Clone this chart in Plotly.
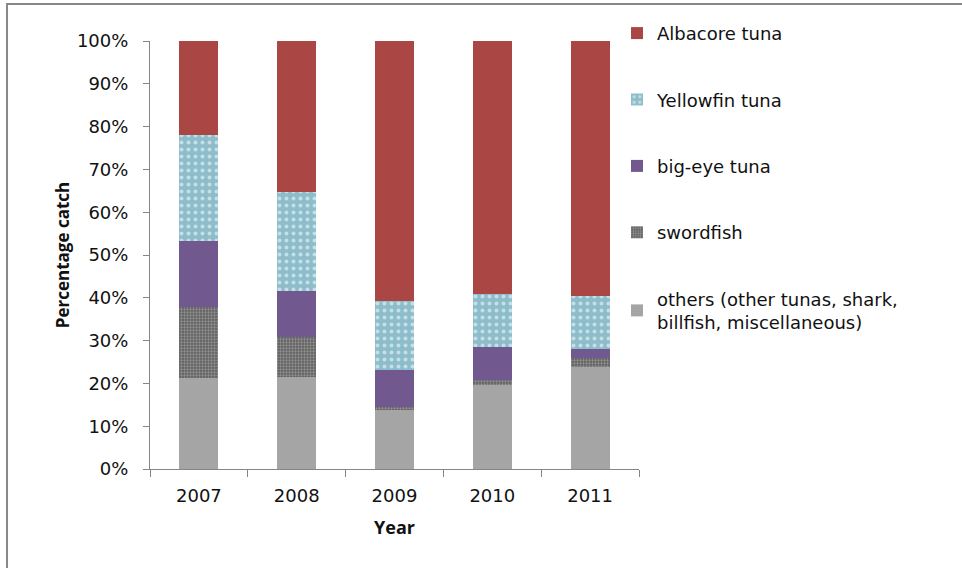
import plotly.graph_objects as go

# Share of catch by species group, per year (percent of total)
years = ["2007", "2008", "2009", "2010", "2011"]
others = [21.3, 21.5, 13.7, 19.7, 23.9]
swordfish = [16.5, 9.3, 0.7, 1.2, 2.1]
bigeye = [15.5, 10.8, 8.7, 7.5, 2.1]
yellowfin = [24.7, 23.2, 16.1, 12.6, 12.4]
albacore = [22.0, 35.2, 60.8, 59.0, 59.5]

series_names = [
    "others (other tunas, shark,<br>billfish, miscellaneous)",
    "swordfish",
    "big-eye tuna",
    "Yellowfin tuna",
    "Albacore tuna",
]
tick_vals = [0, 10, 20, 30, 40, 50, 60, 70, 80, 90, 100]
tick_text = [f"{v}%" for v in tick_vals]

FONT = "DejaVu Sans"
TITLE_FONT = "Open Sans"

fig = go.Figure()

fig.add_bar(
    x=years, y=others, name=series_names[0], legendgroup="g0", legendrank=5,
    marker=dict(color="#A5A5A5", line=dict(width=0)),
)
fig.add_bar(
    x=years, y=swordfish, name=series_names[1], legendgroup="g1", legendrank=4,
    marker=dict(
        color="#6a6a6a", line=dict(width=0),
        pattern=dict(shape=".", fgcolor="#c8c8c8", bgcolor="#5e5e5e",
                     size=3, solidity=0.45, fillmode="overlay"),
    ),
)
fig.add_bar(
    x=years, y=bigeye, name=series_names[2], legendgroup="g2", legendrank=3,
    marker=dict(color="#71588F", line=dict(width=0)),
)
fig.add_bar(
    x=years, y=yellowfin, name=series_names[3], legendgroup="g3", legendrank=2,
    marker=dict(
        color="#8DBDCB", line=dict(width=0),
        pattern=dict(shape=".", fgcolor="#ffffff", bgcolor="#8DBDCB",
                     size=7, solidity=0.25, fillmode="overlay"),
    ),
)
fig.add_bar(
    x=years, y=albacore, name=series_names[4], legendgroup="g4", legendrank=1,
    marker=dict(color="#AA4643", line=dict(width=0)),
)

fig.update_layout(
    width=962,
    height=568,
    barmode="stack",
    bargap=0.6,
    plot_bgcolor="white",
    paper_bgcolor="white",
    margin=dict(l=150, r=323, t=41, b=99, autoexpand=False),
    font=dict(family=FONT, size=17, color="#1a1a1a"),
    legend=dict(
        x=0.955, xanchor="left", y=1.061, yanchor="top",
        traceorder="grouped",
        tracegroupgap=40,
        maxheight=600,
        font=dict(family=FONT, size=18, color="#111111"),
        itemwidth=30,
        bgcolor="rgba(0,0,0,0)",
    ),
    xaxis=dict(
        showline=True, linecolor="#868686", linewidth=1,
        ticks="outside", tickson="boundaries", ticklen=7, tickcolor="#868686",
        ticklabelstandoff=10,
        tickfont=dict(family=FONT, size=18, color="#111111"),
        title=dict(text="<b>Year</b>", font=dict(family=TITLE_FONT, size=18, color="#111111"),
                   standoff=16),
        showgrid=False,
    ),
    yaxis=dict(
        range=[0, 100],
        tickvals=tick_vals, ticktext=tick_text,
        showline=True, linecolor="#868686", linewidth=1,
        ticks="outside", ticklen=6, tickcolor="#868686",
        ticklabelstandoff=11,
        tickfont=dict(family=FONT, size=18, color="#111111"),
        title=dict(text="<b>Percentage catch</b>",
                   font=dict(family=TITLE_FONT, size=17, color="#111111"), standoff=2),
        showgrid=False, zeroline=False,
    ),
    shapes=[
        dict(type="rect", xref="paper", yref="paper",
             x0=-0.2924, x1=1.8, y0=-0.4, y1=1.0865,
             line=dict(color="#888888", width=2), fillcolor="rgba(0,0,0,0)",
             layer="below"),
    ],
)

fig.write_html("out.html")
